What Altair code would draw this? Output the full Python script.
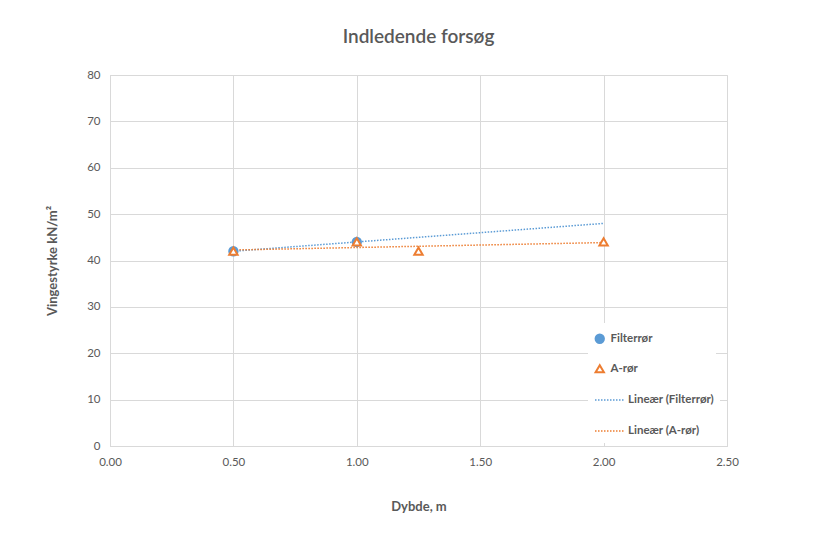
import altair as alt
import pandas as pd

# Data
filter_x = [0.5, 1.0]
filter_y = [42, 44]
a_x = [0.5, 1.0, 1.25, 2.0]
a_y = [42, 44, 42, 44]
series_names = ["Filterrør", "A-rør"]
trend_names = ["Lineær (Filterrør)", "Lineær (A-rør)"]
x_ticks = [0, 0.5, 1.0, 1.5, 2.0, 2.5]
y_ticks = [0, 10, 20, 30, 40, 50, 60, 70, 80]

BLUE = "#5B9BD5"
ORANGE = "#ED7D31"
GRAY = "#595959"
GRID = "#D9D9D9"
FONT = "Lato"

df = pd.DataFrame(
    {"x": filter_x + a_x,
     "y": filter_y + a_y,
     "series": [series_names[0]] * len(filter_x) + [series_names[1]] * len(a_x)}
)

xscale = alt.Scale(domain=[0, 2.5], nice=False)
yscale = alt.Scale(domain=[0, 80], nice=False)
xaxis = alt.Axis(values=x_ticks, format=".2f", title="Dybde, m", grid=True, gridColor=GRID,
                 domainColor=GRID, ticks=False, labelColor=GRAY, labelFontSize=11.5,
                 labelPadding=10, labelFlush=False, titleColor=GRAY, titleFontSize=13,
                 titleFontWeight="bold", titlePadding=33, labelFont=FONT, titleFont=FONT)
yaxis = alt.Axis(values=y_ticks, title="Vingestyrke kN/m²", grid=True, gridColor=GRID,
                 domainColor=GRID, ticks=False, labelColor=GRAY, labelFontSize=11.5,
                 labelPadding=10, labelFlush=False, titleColor=GRAY, titleFontSize=13,
                 titleFontWeight="bold", titlePadding=27, labelFont=FONT, titleFont=FONT)

base = alt.Chart(df)

lines = base.transform_regression(
    "x", "y", groupby=["series"], extent=[0.5, 2.0]
).transform_calculate(
    trend="'Lineær (' + datum.series + ')'"
).mark_line(strokeDash=[1.5, 1.5], strokeWidth=1.5).encode(
    x=alt.X("x:Q", scale=xscale, axis=xaxis),
    y=alt.Y("y:Q", scale=yscale, axis=yaxis),
    color=alt.Color("trend:N", scale=alt.Scale(domain=trend_names, range=[BLUE, ORANGE]),
                    legend=alt.Legend(title=None, orient="none", legendX=478, legendY=303,
                                      symbolType="stroke", symbolSize=900, symbolDash=[1.5, 1.5],
                                      symbolStrokeWidth=1.5, labelFontSize=11.5, labelColor=GRAY,
                                      labelFontWeight="bold", labelFont=FONT, rowPadding=9,
                                      fillColor="white", padding=6, labelOffset=2)),
)

spacer = "_" * 52
points = base.mark_point(size=70, strokeWidth=2, opacity=1).encode(
    x=alt.X("x:Q", scale=xscale, axis=xaxis),
    y=alt.Y("y:Q", scale=yscale, axis=yaxis),
    shape=alt.Shape("series:N", scale=alt.Scale(domain=series_names, range=["circle", "triangle-up"]),
                    legend=alt.Legend(title=spacer, titleFontSize=4, titlePadding=0,
                                      titleColor="white", titleLimit=400, titleOpacity=0,
                                      orient="none", legendX=478, legendY=248,
                                      symbolSize=70, symbolStrokeWidth=2, labelFontSize=11.5,
                                      labelColor=GRAY, labelFontWeight="bold", labelFont=FONT,
                                      rowPadding=14, fillColor="white", padding=6, labelOffset=5,
                                      symbolOffset=0)),
    fill=alt.Fill("series:N", scale=alt.Scale(domain=series_names, range=[BLUE, "white"])),
    stroke=alt.Stroke("series:N", scale=alt.Scale(domain=series_names, range=[BLUE, ORANGE])),
)

chart = alt.layer(lines, points).properties(
    width=617,
    height=371,
    title=alt.Title("Indledende forsøg", fontSize=19, color=GRAY, font=FONT,
                    fontWeight=600, offset=22),
    autosize=alt.AutoSizeParams(type="none"),
    padding={"left": 110, "top": 75, "right": 87, "bottom": 87},
).configure_view(stroke=None).configure(background="white")

chart.save("out.html", embed_options={"renderer": "svg", "actions": False})
